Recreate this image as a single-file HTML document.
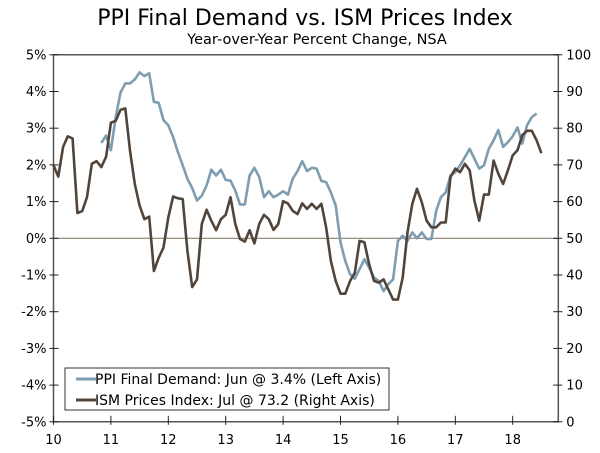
<!DOCTYPE html>
<html><head><meta charset="utf-8"><style>
body{margin:0;background:#fff;width:600px;height:448px;overflow:hidden}
svg text{font-family:"DejaVu Sans","Liberation Sans",sans-serif;fill:#000}
</style></head><body>
<svg id="chart" width="600" height="448" viewBox="0 0 600 448" xmlns="http://www.w3.org/2000/svg">
<text x="305" y="25" font-size="22" text-anchor="middle">PPI Final Demand vs. ISM Prices Index</text>
<text x="317" y="44" font-size="14.5" text-anchor="middle">Year-over-Year Percent Change, NSA</text>
<g id="axes"></g>
<g id="series"></g>
<g>
<rect x="65" y="368" width="324" height="42" fill="#fff" stroke="#333" stroke-width="1"/>
<line x1="76" y1="379" x2="96" y2="379" stroke="#7f9db0" stroke-width="3"/>
<text x="95" y="384" font-size="14">PPI Final Demand: Jun @ 3.4% (Left Axis)</text>
<line x1="76" y1="400" x2="96" y2="400" stroke="#51453b" stroke-width="3"/>
<text x="95" y="405" font-size="14">ISM Prices Index: Jul @ 73.2 (Right Axis)</text>
</g>
</svg>
<script>
const yearLabels=["10","11","12","13","14","15","16","17","18"];
const leftTicks=[5,4,3,2,1,0,-1,-2,-3,-4,-5];
const rightTicks=[100,90,80,70,60,50,40,30,20,10,0];
const ppiStart=10;
const ppiValues=[2.6,2.8,2.4,3.3,3.97,4.22,4.22,4.33,4.52,4.42,4.5,3.72,3.69,3.22,3.08,2.76,2.35,1.99,1.62,1.37,1.03,1.16,1.44,1.87,1.71,1.87,1.59,1.57,1.3,0.92,0.92,1.71,1.92,1.67,1.12,1.28,1.12,1.19,1.28,1.19,1.62,1.83,2.1,1.83,1.92,1.9,1.56,1.53,1.25,0.89,-0.11,-0.62,-0.98,-1.1,-0.84,-0.57,-0.8,-1.07,-1.16,-1.44,-1.25,-1.12,-0.07,0.07,-0.07,0.16,0.0,0.16,-0.02,-0.02,0.75,1.12,1.25,1.71,1.8,1.99,2.21,2.44,2.17,1.9,1.99,2.44,2.67,2.95,2.49,2.62,2.78,3.02,2.58,3.08,3.3,3.4];
const ismStart=0;
const ismValues=[69.9,66.8,74.9,77.8,77.2,56.9,57.4,61.2,70.3,71,69.4,72.2,81.5,82,85,85.4,73.9,64.8,58.9,55.2,55.9,41.1,44.7,47.5,55.7,61.4,60.9,60.7,46.6,36.7,38.8,53.9,57.8,54.8,52.2,55.2,56.4,61.2,53.9,49.8,49.1,52.2,48.6,53.9,56.4,55.2,52.3,53.9,60.1,59.5,57.5,56.6,59.5,58,59.4,58,59.4,53,43.8,38.4,34.9,34.9,38.4,40.6,49.3,48.9,42.9,38.4,37.9,38.8,36.1,33.3,33.3,39.3,51.6,59.4,63.5,59.8,54.8,53,53,54.3,54.3,66.7,69,68,70.3,68.5,60.3,54.8,61.9,61.9,71.2,67.6,64.8,68.5,72.6,74,78.1,79.3,79.3,76.7,73.2];
const X0=53.5,XR=558.3,YT=54.8,YB=421.8;
const xm=m=>X0+m*57.4/12;
const yL=v=>238.3-v*36.7;
const yR=v=>YB-v*(YB-YT)/100;
const NS="http://www.w3.org/2000/svg";
function mk(tag,attrs,parent){const e=document.createElementNS(NS,tag);for(const k in attrs)e.setAttribute(k,attrs[k]);parent.appendChild(e);return e;}
const ax=document.getElementById('axes');
const frame=mk('path',{d:`M${X0},${YT}H${XR}V${YB}H${X0}Z`,fill:'none',stroke:'#555','stroke-width':1.5},ax);


const zl=mk('line',{x1:X0,x2:XR,y1:yL(0),y2:yL(0),stroke:'#8a8070','stroke-width':1.2},ax);


leftTicks.forEach(v=>{
  mk('line',{x1:X0-4,x2:X0+5,y1:yL(v),y2:yL(v),stroke:'#222','stroke-width':1},ax);
  const t=mk('text',{x:X0-7,y:yL(v)+4.5,'font-size':13,'text-anchor':'end'},ax);t.textContent=v+'%';
  
  
});
rightTicks.forEach(v=>{
  mk('line',{x1:XR-5,x2:XR+4,y1:yR(v),y2:yR(v),stroke:'#222','stroke-width':1},ax);
  const t=mk('text',{x:XR+8,y:yR(v)+4.5,'font-size':13},ax);t.textContent=v;
  
  
});
yearLabels.forEach((l,i)=>{
  const x=xm(i*12);
  mk('line',{x1:x,x2:x,y1:YB-6,y2:YB+3,stroke:'#222','stroke-width':1},ax);
  const t=mk('text',{x:x,y:YB+22,'font-size':13,'text-anchor':'middle'},ax);t.textContent=l;
  
  
});
const sg=document.getElementById('series');
const ppiPts=ppiValues.map((v,i)=>xm(ppiStart+i).toFixed(1)+','+yL(v).toFixed(1)).join(' ');
const p1=mk('polyline',{points:ppiPts,fill:'none',stroke:'#7f9db0','stroke-width':2.6,'stroke-linejoin':'round'},sg);


const ismPts=ismValues.map((v,i)=>xm(ismStart+i).toFixed(1)+','+yR(v).toFixed(1)).join(' ');
const p2=mk('polyline',{points:ismPts,fill:'none',stroke:'#51453b','stroke-width':2.6,'stroke-linejoin':'round'},sg);


</script>
</body></html>
